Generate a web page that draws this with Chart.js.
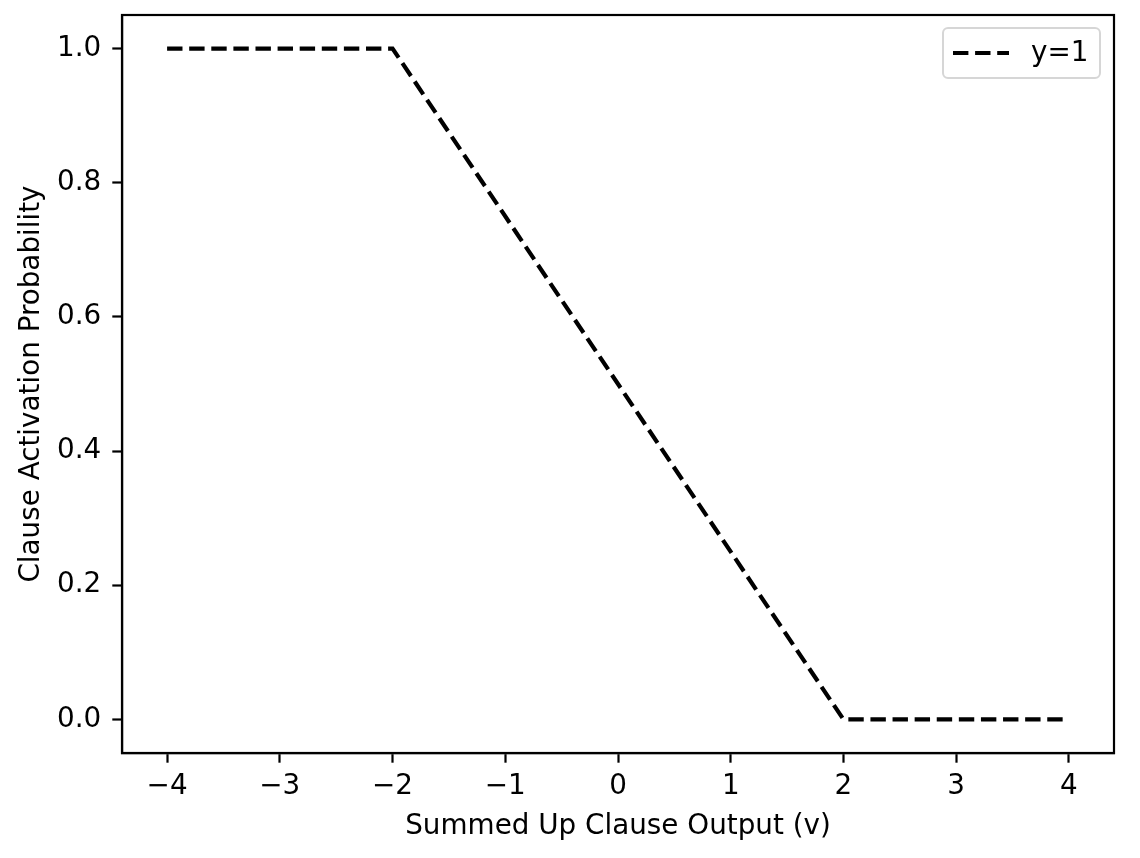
<!DOCTYPE html>
<html>
<head>
<meta charset="utf-8">
<script src="https://cdn.jsdelivr.net/npm/chart.js@4.4.1/dist/chart.umd.min.js"></script>
<style>
html,body{margin:0;padding:0;background:#fff;}
#wrap{width:1140px;height:858px;}
</style>
</head>
<body>
<div id="wrap"><canvas id="c" width="1140" height="858"></canvas></div>
<script>
const xValues = [-4, -2, 2, 4];
const yValues = [1, 1, 0, 0];
const seriesLabel = 'y=1';
const xTicks = [-4, -3, -2, -1, 0, 1, 2, 3, 4];
const yTicks = [0.0, 0.2, 0.4, 0.6, 0.8, 1.0];
const xTitle = 'Summed Up Clause Output (v)';
const yTitle = 'Clause Activation Probability';

const FONT = 'DejaVu Sans';
const FS = 27.8;
const DASH = [15.4, 6.7];
const LW = 4.2;

const framePlugin = {
  id: 'frame',
  afterDatasetsDraw(chart) {
    const {ctx, chartArea: a} = chart;
    ctx.save();
    ctx.strokeStyle = '#000';
    ctx.lineWidth = 2.2;
    ctx.strokeRect(a.left, a.top, a.right - a.left, a.bottom - a.top);
    // legend
    const bx = 943, by = 28, bw = 157, bh = 50, r = 5;
    ctx.beginPath();
    ctx.moveTo(bx + r, by);
    ctx.lineTo(bx + bw - r, by);
    ctx.arcTo(bx + bw, by, bx + bw, by + r, r);
    ctx.lineTo(bx + bw, by + bh - r);
    ctx.arcTo(bx + bw, by + bh, bx + bw - r, by + bh, r);
    ctx.lineTo(bx + r, by + bh);
    ctx.arcTo(bx, by + bh, bx, by + bh - r, r);
    ctx.lineTo(bx, by + r);
    ctx.arcTo(bx, by, bx + r, by, r);
    ctx.closePath();
    ctx.fillStyle = 'rgba(255,255,255,0.8)';
    ctx.fill();
    ctx.strokeStyle = '#d6d6d6';
    ctx.lineWidth = 2;
    ctx.stroke();
    ctx.beginPath();
    ctx.setLineDash(DASH);
    ctx.lineWidth = LW;
    ctx.strokeStyle = '#000';
    ctx.moveTo(953, 53);
    ctx.lineTo(1009, 53);
    ctx.stroke();
    ctx.setLineDash([]);
    ctx.fillStyle = '#000';
    ctx.font = FS + 'px "' + FONT + '"';
    ctx.textBaseline = 'middle';
    ctx.textAlign = 'left';
    ctx.fillText(chart.data.datasets[0].label, 1031, 54);
    ctx.restore();
  }
};

new Chart(document.getElementById('c'), {
  type: 'line',
  data: {
    datasets: [{
      label: seriesLabel,
      data: xValues.map((x, i) => ({x: x, y: yValues[i]})),
      borderColor: '#000',
      borderWidth: LW,
      borderDash: DASH,
      pointRadius: 0,
      tension: 0,
      fill: false
    }]
  },
  options: {
    responsive: false,
    animation: false,
    devicePixelRatio: 1,
    layout: {padding: {left: 0, right: 26, top: 15, bottom: 0}},
    plugins: {legend: {display: false}, tooltip: {enabled: false}},
    scales: {
      x: {
        type: 'linear',
        min: -4.4, max: 4.4,
        afterFit(s) { s.height = 105; s.paddingLeft = 0; s.paddingRight = 0; },
        afterBuildTicks(s) { s.ticks = xTicks.map(v => ({value: v})); },
        grid: {drawOnChartArea: false, drawTicks: true, tickLength: 9.7, tickWidth: 2.2, tickColor: '#000'},
        border: {display: true, color: '#000', width: 2.2},
        ticks: {
          color: '#000', padding: 7, maxRotation: 0, autoSkip: false,
          font: {family: FONT, size: FS},
          callback: v => (v < 0 ? '\u2212' + Math.abs(v) : String(v))
        },
        title: {display: true, text: xTitle, color: '#000', font: {family: FONT, size: FS}, padding: {top: 0, bottom: 15}}
      },
      y: {
        type: 'linear',
        min: -0.05, max: 1.05,
        afterFit(s) { s.width = 122; s.paddingTop = 0; s.paddingBottom = 0; },
        afterBuildTicks(s) { s.ticks = yTicks.map(v => ({value: v})); },
        grid: {drawOnChartArea: false, drawTicks: true, tickLength: 9.7, tickWidth: 2.2, tickColor: '#000'},
        border: {display: true, color: '#000', width: 2.2},
        ticks: {
          color: '#000', padding: 11, autoSkip: false,
          font: {family: FONT, size: FS},
          callback: v => v.toFixed(1)
        },
        title: {display: true, text: yTitle, color: '#000', font: {family: FONT, size: FS}, padding: {top: 15, bottom: 0}}
      }
    }
  },
  plugins: [framePlugin]
});
</script>
</body>
</html>
